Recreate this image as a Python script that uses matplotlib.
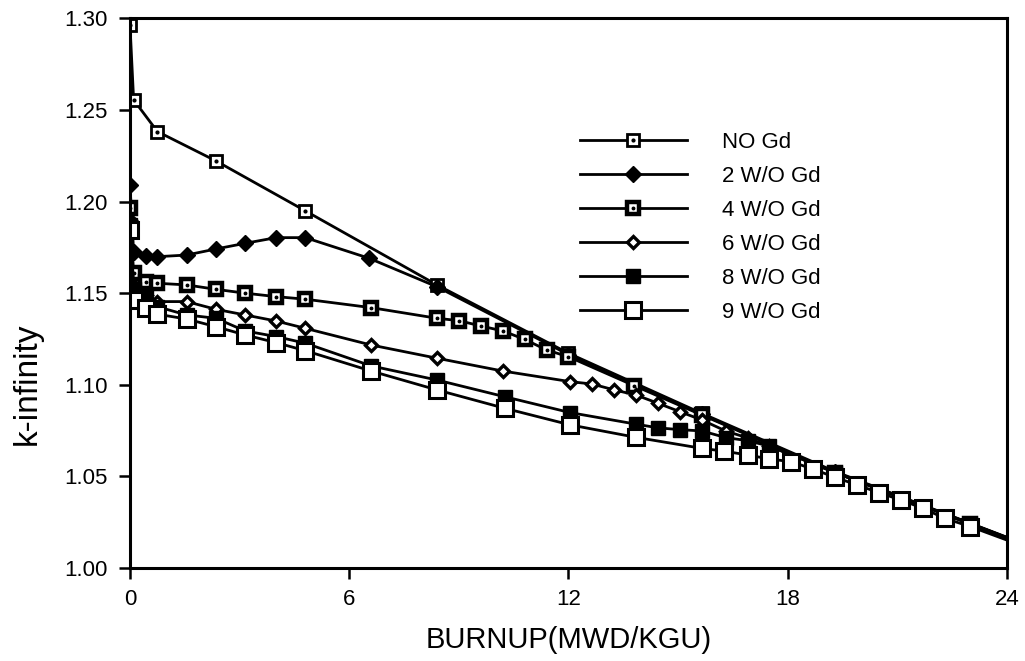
import matplotlib
matplotlib.use("Agg")
import matplotlib.pyplot as plt

plt.rcParams['font.family'] = ['Liberation Sans', 'DejaVu Sans']

# burnup (MWD/KGU) and k-infinity for each case
x_nogd = [0, 0.1, 0.75, 2.35, 4.8, 8.4, 12.0, 15.65, 19.3, 23.0, 26.0]
k_nogd = [1.2964, 1.2555, 1.2382, 1.2222, 1.1949, 1.1545, 1.1172, 1.0844, 1.0526, 1.0244, 1.0015]

x_2wo = [0, 0.1, 0.45, 0.75, 1.55, 2.35, 3.15, 4.0, 4.8, 6.55, 8.4, 12.0, 15.65, 19.3, 23.0, 26.0]
k_2wo = [1.209, 1.1727, 1.1703, 1.1699, 1.1708, 1.1741, 1.1772, 1.1803, 1.1803, 1.169, 1.1535,
         1.1165, 1.0838, 1.0522, 1.0242, 1.0013]

x_4wo = [0, 0.1, 0.45, 0.75, 1.55, 2.35, 3.15, 4.0, 4.8, 6.6, 8.4, 9.0, 9.6, 10.2, 10.8, 11.4,
         12.0, 13.8, 15.65, 19.3, 23.0, 26.0]
k_4wo = [1.1965, 1.1609, 1.1563, 1.1554, 1.1545, 1.1521, 1.15, 1.1481, 1.1467, 1.1421, 1.1363,
         1.135, 1.1321, 1.1294, 1.1248, 1.119, 1.1153, 1.0995, 1.0835, 1.052, 1.024, 1.0012]

x_6wo = [0, 0.1, 0.45, 0.75, 1.55, 2.35, 3.15, 4.0, 4.8, 6.6, 8.4, 10.2, 12.05, 12.65, 13.25,
         13.85, 14.45, 15.05, 15.65, 16.3, 16.9, 17.5, 19.3, 23.0, 26.0]
k_6wo = [1.19, 1.154, 1.149, 1.1454, 1.1454, 1.1412, 1.1381, 1.1348, 1.1308, 1.1217, 1.1145,
         1.1075, 1.1017, 1.1004, 1.0972, 1.0944, 1.0899, 1.0853, 1.0808, 1.0748, 1.071, 1.0665,
         1.0522, 1.0242, 1.0013]

x_8wo = [0, 0.1, 0.45, 0.75, 1.55, 2.35, 3.15, 4.0, 4.8, 6.6, 8.4, 10.25, 12.05, 13.85, 14.45,
         15.05, 15.65, 16.3, 16.9, 17.5, 19.3, 23.0, 26.0]
k_8wo = [1.187, 1.152, 1.1485, 1.1426, 1.1381, 1.1363, 1.1294, 1.1263, 1.1227, 1.1103, 1.1026,
         1.0935, 1.0848, 1.0785, 1.0765, 1.0755, 1.0748, 1.0712, 1.0695, 1.0665, 1.052, 1.024,
         1.0012]

x_9wo = [0, 0.1, 0.45, 0.75, 1.55, 2.35, 3.15, 4.0, 4.8, 6.6, 8.4, 10.25, 12.05, 13.85, 15.65,
         16.25, 16.9, 17.5, 18.1, 18.7, 19.3, 19.9, 20.5, 21.1, 21.7, 22.3, 23.0, 26.0]
k_9wo = [1.1845, 1.1463, 1.1418, 1.1385, 1.1359, 1.1317, 1.1272, 1.123, 1.1186, 1.1075, 1.0972,
         1.0872, 1.0781, 1.0713, 1.0653, 1.0638, 1.0617, 1.0595, 1.058, 1.0539, 1.0495, 1.0453,
         1.0411, 1.0371, 1.0326, 1.0271, 1.0226, 1.0005]

labels = ['NO Gd', '2 W/O Gd', '4 W/O Gd', '6 W/O Gd', '8 W/O Gd', '9 W/O Gd']
xticks = [0, 6, 12, 18, 24]
yticks = [1.00, 1.05, 1.10, 1.15, 1.20, 1.25, 1.30]

fig = plt.figure(figsize=(10.25, 6.61), dpi=100)
ax = fig.add_axes([0.1268, 0.1407, 0.8556, 0.8316])

lw = 2.0
handles = []

# NO Gd: small open square with a dot
l1, = ax.plot(x_nogd, k_nogd, 'k-', lw=lw, marker='s', ms=8, mfc='white', mec='k', mew=2.0)
d1, = ax.plot(x_nogd, k_nogd, ls='none', marker='o', ms=2.0, color='k')
handles.append((l1, d1))

# 2 W/O: filled diamond
l2, = ax.plot(x_2wo, k_2wo, 'k-', lw=lw, marker='D', ms=8, mfc='k', mec='k')
handles.append(l2)

# 4 W/O: bold square with a dot
l3, = ax.plot(x_4wo, k_4wo, 'k-', lw=lw, marker='s', ms=9, mfc='white', mec='k', mew=3.2)
d3, = ax.plot(x_4wo, k_4wo, ls='none', marker='o', ms=1.8, color='k')
handles.append((l3, d3))

# 6 W/O: open diamond
l4, = ax.plot(x_6wo, k_6wo, 'k-', lw=lw, marker='D', ms=6.5, mfc='white', mec='k', mew=2.4)
handles.append(l4)

# 8 W/O: filled square
l5, = ax.plot(x_8wo, k_8wo, 'k-', lw=lw, marker='s', ms=10, mfc='k', mec='k')
handles.append(l5)

# 9 W/O: large open square
l6, = ax.plot(x_9wo, k_9wo, 'k-', lw=lw, marker='s', ms=11, mfc='white', mec='k', mew=2.2)
handles.append(l6)

ax.set_xlim(0, 24)
ax.set_ylim(1.00, 1.30)
ax.set_xticks(xticks)
ax.set_yticks(yticks)
ax.set_yticklabels(['%.2f' % v for v in yticks])

for s in ax.spines.values():
    s.set_linewidth(2.2)
ax.tick_params(axis='x', direction='out', length=8, width=1.8, labelsize=16, pad=7)
ax.tick_params(axis='y', direction='out', length=8, width=1.8, labelsize=16, pad=8)

ax.set_xlabel('BURNUP(MWD/KGU)', fontsize=21, labelpad=12)
ax.set_ylabel('k-infinity', fontsize=24)
ax.yaxis.set_label_coords(-0.1, 0.335)

ax.legend(handles, labels, loc='upper left', bbox_to_anchor=(0.513, 0.793),
          frameon=False, fontsize=16, handlelength=4.8, handletextpad=1.6,
          labelspacing=0.58, borderpad=0, borderaxespad=0)

fig.savefig('out.png', dpi=100)
